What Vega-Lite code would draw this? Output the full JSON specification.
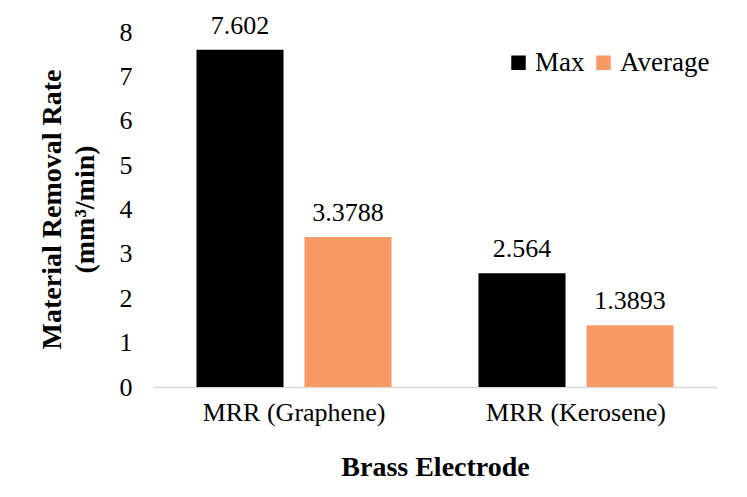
{
  "$schema": "https://vega.github.io/schema/vega-lite/v6.json",
  "width": 564,
  "height": 355,
  "autosize": {"type": "none"},
  "padding": {"left": 153, "top": 32, "right": 30, "bottom": 110},
  "background": "white",
  "config": {
    "view": {"stroke": null},
    "font": "Liberation Serif",
    "axis": {"grid": false, "ticks": false, "labelFont": "Liberation Serif", "titleFont": "Liberation Serif", "labelColor": "#000000", "titleColor": "#000000"},
    "legend": {"labelFont": "Liberation Serif"}
  },
  "data": {
    "values": [
      {"category": "MRR (Graphene)", "series": "Max", "value": 7.602, "label": "7.602"},
      {"category": "MRR (Graphene)", "series": "Average", "value": 3.3788, "label": "3.3788"},
      {"category": "MRR (Kerosene)", "series": "Max", "value": 2.564, "label": "2.564"},
      {"category": "MRR (Kerosene)", "series": "Average", "value": 1.3893, "label": "1.3893"}
    ]
  },
  "encoding": {
    "x": {
      "field": "category", "type": "nominal",
      "scale": {"paddingInner": 0, "paddingOuter": 0},
      "axis": {"labelAngle": 0, "labelFontSize": 26, "labelLimit": 0, "labelPadding": 12, "domainColor": "#d9d9d9", "domainWidth": 1.5, "title": "Brass Electrode", "titleFontSize": 28, "titleFontWeight": "bold", "titlePadding": 28}
    },
    "xOffset": {"field": "series", "type": "nominal", "sort": ["Max", "Average"], "scale": {"paddingInner": 0.194, "paddingOuter": 0.4025}},
    "y": {
      "field": "value", "type": "quantitative",
      "scale": {"domain": [0, 8]},
      "axis": {"values": [0,1,2,3,4,5,6,7,8], "labelOverlap": false, "domain": false, "labelFontSize": 26, "labelPadding": 21, "title": ["Material Removal Rate", "(mm³/min)"], "titleFontSize": 28, "titleFontWeight": "bold", "titleLineHeight": 33, "titleX": -101, "titleY": 177, "titleAngle": -90, "titleAlign": "center", "titleBaseline": "middle"}
    }
  },
  "layer": [
    {
      "mark": {"type": "bar"},
      "encoding": {
        "color": {
          "field": "series", "type": "nominal",
          "scale": {"domain": ["Max", "Average"], "range": ["#000000", "#F99A66"]},
          "legend": {"title": null, "orient": "none", "legendX": 352, "legendY": 17, "direction": "horizontal", "symbolType": "square", "symbolSize": 210, "labelFontSize": 27, "symbolStrokeWidth": 0, "columnPadding": 5, "labelOffset": 3}
        }
      }
    },
    {
      "mark": {"type": "text", "baseline": "alphabetic", "dy": -16, "fontSize": 26, "font": "Liberation Serif", "color": "#000000"},
      "encoding": {"text": {"field": "label"}}
    }
  ]
}
